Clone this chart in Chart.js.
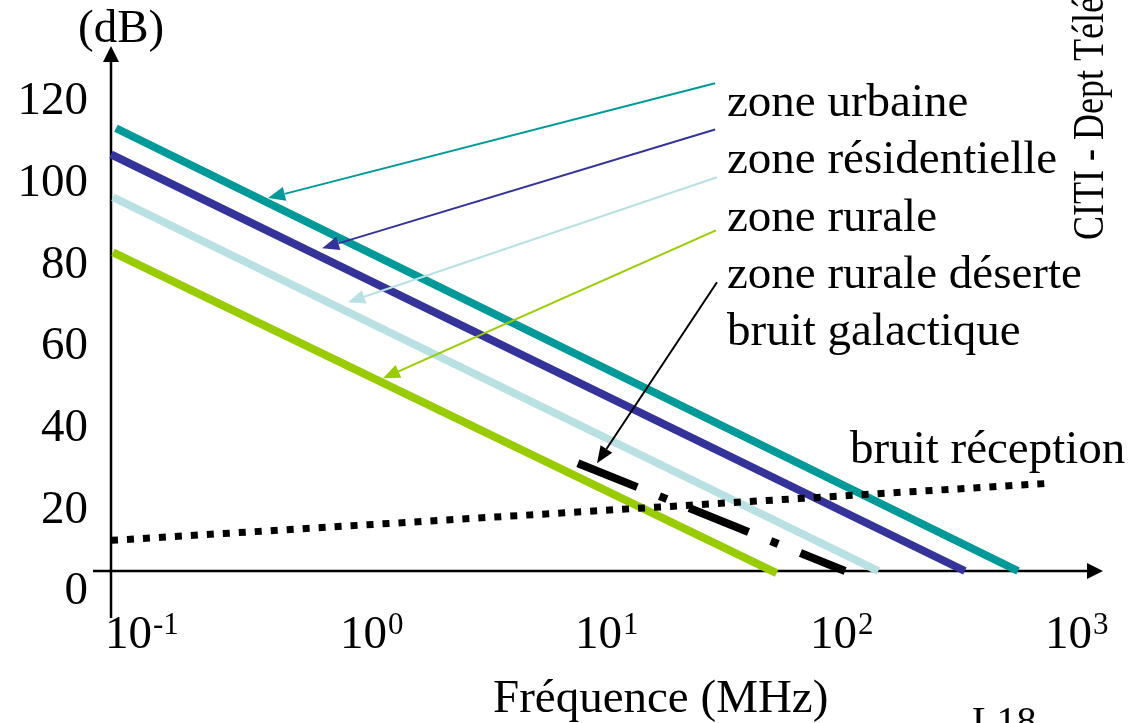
<!DOCTYPE html>
<html lang="fr">
<head>
<meta charset="UTF-8">
<title>Bruit radioélectrique</title>
<style>
  body { margin: 0; background: #fff; }
  #wrap { width: 1136px; height: 723px; }
</style>
</head>
<body>
<div id="wrap"><canvas id="chart" width="1136" height="723"></canvas></div>
<script src="https://cdn.jsdelivr.net/npm/chart.js"></script>
<script>
// axes
const xTickValues = [0.1, 1, 10, 100, 1000];
const xTickExponents = ['-1', '0', '1', '2', '3'];
const yTickValues = [0, 20, 40, 60, 80, 100, 120];

// series: frequency (MHz) / level (dB)
const urbaineFreq = [0.105, 724];
const urbaineDb = [108.4, 0];
const residentielleFreq = [0.1, 430];
const residentielleDb = [102, 0];
const ruraleFreq = [0.102, 184];
const ruraleDb = [91.5, 0];
const deserteFreq = [0.102, 68];
const deserteDb = [78, -0.5];
const galactiqueFreq = [9.7, 133];
const galactiqueDb = [26.4, 0];
const receptionFreq = [0.1, 942];
const receptionDb = [7.5, 21.4];

// labels and the arrows pointing from them to the curves (MHz, dB)
const curveLabels = ['zone urbaine', 'zone résidentielle', 'zone rurale', 'zone rurale déserte', 'bruit galactique'];
const arrowFrom = [[37.2, 119.4], [37.2, 108.1], [37.9, 96.4], [37.5, 83.4], [37.9, 70.7]];
const arrowTo = [[0.466, 91.3], [0.791, 79.0], [1.02, 65.8], [1.436, 47.2], [11.7, 26.4]];
const receptionLabel = 'bruit réception';

const FONT = "'Liberation Serif', 'Times New Roman', serif";
const colors = ['#009999', '#333399', '#b9e0e3', '#99cc00', '#000000'];

function pts(fs, dbs) {
    return fs.map((f, i) => ({x: f, y: dbs[i]}));
}

function drawArrow(ctx, x1, y1, x2, y2, color, width, headLen, headHalf) {
    const a = Math.atan2(y2 - y1, x2 - x1);
    const bx = x2 - headLen * Math.cos(a), by = y2 - headLen * Math.sin(a);
    ctx.strokeStyle = color;
    ctx.fillStyle = color;
    ctx.lineWidth = width;
    ctx.beginPath();
    ctx.moveTo(x1, y1);
    ctx.lineTo(bx, by);
    ctx.stroke();
    ctx.beginPath();
    ctx.moveTo(x2, y2);
    ctx.lineTo(bx + headHalf * Math.sin(a), by - headHalf * Math.cos(a));
    ctx.lineTo(bx - headHalf * Math.sin(a), by + headHalf * Math.cos(a));
    ctx.closePath();
    ctx.fill();
}

const axesPlugin = {
    id: 'axes',
    beforeDatasetsDraw(chart) {
        const ctx = chart.ctx, xs = chart.scales.x, ys = chart.scales.y;
        const x0 = xs.getPixelForValue(0.1), y0 = ys.getPixelForValue(0);
        ctx.save();
        drawArrow(ctx, x0, y0 + 47, x0, chart.chartArea.top + 6, '#000', 2.5, 16, 8);
        drawArrow(ctx, x0 - 18, y0, xs.getPixelForValue(1000) + 52, y0, '#000', 2.5, 16, 8);
        ctx.restore();
    },
    afterDraw(chart) {
        const ctx = chart.ctx, xs = chart.scales.x, ys = chart.scales.y;
        ctx.save();
        ctx.fillStyle = '#000';
        ctx.textBaseline = 'alphabetic';
        ctx.textAlign = 'left';

        // x tick labels with exponent
        xTickValues.forEach((v, i) => {
            const px = xs.getPixelForValue(v) - 6;
            ctx.font = '47px ' + FONT;
            ctx.fillText('10', px, 648);
            const w = ctx.measureText('10').width;
            ctx.font = '31px ' + FONT;
            ctx.fillText(xTickExponents[i], px + w + 1, 634);
        });

        // axis titles
        ctx.font = '47px ' + FONT;
        ctx.fillText('(dB)', 78, 42);
        ctx.fillText('Fréquence (MHz)', 493, 712);

        // arrows from labels to curves
        arrowFrom.forEach((p, i) => {
            drawArrow(ctx,
                xs.getPixelForValue(p[0]), ys.getPixelForValue(p[1]),
                xs.getPixelForValue(arrowTo[i][0]), ys.getPixelForValue(arrowTo[i][1]),
                colors[i], 2, 17, 7);
        });

        ctx.fillStyle = '#000';
        ctx.font = '47px ' + FONT;
        const lx = xs.getPixelForValue(41.8), ly = ys.getPixelForValue(111.4);
        curveLabels.forEach((t, i) => ctx.fillText(t, lx, ly + i * 57.3));
        ctx.fillText(receptionLabel, xs.getPixelForValue(139.5), ys.getPixelForValue(26.4));

        // slide footer bits
        ctx.font = '40px ' + FONT;
        ctx.fillText('L18', 972, 734);
        ctx.translate(1103, 240);
        ctx.rotate(-Math.PI / 2);
        ctx.scale(0.8, 1);
        ctx.font = '45px ' + FONT;
        ctx.fillText('CITI - Dept Télécom', 0, 0);
        ctx.restore();
    }
};

function lineSet(label, fs, dbs, color, order, extra) {
    return Object.assign({
        label: label,
        data: pts(fs, dbs),
        borderColor: color,
        borderWidth: 8,
        pointRadius: 0,
        tension: 0,
        clip: false,
        order: order
    }, extra || {});
}

new Chart(document.getElementById('chart'), {
    type: 'line',
    data: {
        datasets: [
            lineSet(curveLabels[0], urbaineFreq, urbaineDb, colors[0], 5),
            lineSet(curveLabels[1], residentielleFreq, residentielleDb, colors[1], 4),
            lineSet(curveLabels[2], ruraleFreq, ruraleDb, colors[2], 3),
            lineSet(curveLabels[3], deserteFreq, deserteDb, colors[3], 2),
            lineSet(curveLabels[4], galactiqueFreq, galactiqueDb, '#000', 1, {borderDash: [64, 24, 8, 24]}),
            lineSet(receptionLabel, receptionFreq, receptionDb, '#000', 0, {borderWidth: 7, borderDash: [7, 9]})
        ]
    },
    options: {
        responsive: false,
        animation: false,
        devicePixelRatio: 1,
        layout: {padding: {top: 40, right: 85, bottom: 152, left: 0}},
        plugins: {legend: {display: false}, tooltip: {enabled: false}},
        scales: {
            x: {
                type: 'logarithmic',
                min: 0.1,
                max: 1000,
                display: false
            },
            y: {
                type: 'linear',
                min: 0,
                max: 130,
                grid: {display: false, drawTicks: false},
                border: {display: false},
                afterBuildTicks: s => { s.ticks = yTickValues.map(v => ({value: v})); },
                afterFit: s => {
                    s.width = 111;
                    s.paddingTop = 0;
                    s.paddingBottom = 0;
                },
                ticks: {
                    autoSkip: false,
                    padding: 23,
                    labelOffset: 21,
                    color: '#000',
                    font: {family: FONT, size: 47}
                }
            }
        }
    },
    plugins: [axesPlugin]
});
</script>
</body>
</html>
